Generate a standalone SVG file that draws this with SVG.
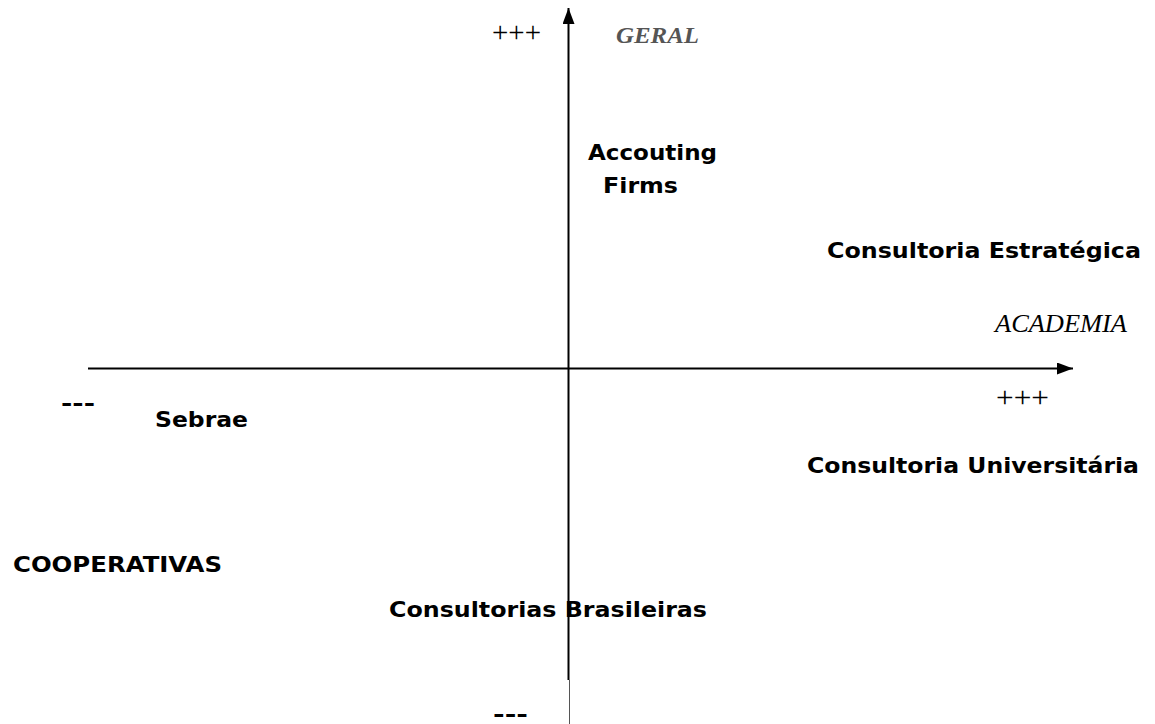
<svg xmlns="http://www.w3.org/2000/svg" width="1155" height="724" viewBox="0 0 1155 724">
  <style>
    .lbl { font-family: "DejaVu Sans", Verdana, sans-serif; font-weight: bold; font-size: 22px; fill: #000; }
    .tick { font-family: "Liberation Serif", "Times New Roman", serif; font-size: 29px; fill: #000; }
    .axis-name { font-family: "Liberation Serif", "Times New Roman", serif; font-style: italic; }
    .dash { font-family: "DejaVu Sans", Verdana, sans-serif; font-weight: bold; font-size: 22px; fill: #000; }
  </style>
  <defs>
    <marker id="arrow" markerWidth="16" markerHeight="12" refX="16" refY="6" orient="auto" markerUnits="userSpaceOnUse" viewBox="0 0 16 12">
      <path d="M0,0 L16,6 L0,12 Z" fill="#000"/>
    </marker>
  </defs>
  <rect width="1155" height="724" fill="#fff"/>

  <g id="connectors">
    <!-- vertical axis (GERAL) -->
    <line x1="568.5" y1="680" x2="568.5" y2="8" stroke="#000" stroke-width="2" marker-end="url(#arrow)"/>
    <line x1="569.5" y1="680" x2="569.5" y2="724" stroke="#555" stroke-width="1"/>
    <!-- horizontal axis (ACADEMIA) -->
    <line x1="88" y1="368.5" x2="1073" y2="368.5" stroke="#000" stroke-width="2" marker-end="url(#arrow)"/>
  </g>

  <g id="axis-labels">
    <text class="tick" x="492" y="42" textLength="49" lengthAdjust="spacingAndGlyphs">+++</text>
    <text class="axis-name" x="616" y="43" font-size="24" font-weight="bold" fill="#555" textLength="83" lengthAdjust="spacingAndGlyphs">GERAL</text>
    <text class="axis-name" x="995" y="332" font-size="26" fill="#000" textLength="132" lengthAdjust="spacingAndGlyphs">ACADEMIA</text>
    <text class="tick" x="996" y="407" textLength="53" lengthAdjust="spacingAndGlyphs">+++</text>
    <text class="dash" x="61" y="411" textLength="34" lengthAdjust="spacingAndGlyphs">---</text>
    <text class="dash" x="493" y="722" textLength="35" lengthAdjust="spacingAndGlyphs">---</text>
  </g>

  <g id="accounting-firms">
    <text class="lbl" x="588" y="160" textLength="129" lengthAdjust="spacingAndGlyphs">Accouting</text>
    <text class="lbl" x="603" y="193" textLength="75" lengthAdjust="spacingAndGlyphs">Firms</text>
  </g>
  <g id="consultoria-estrategica">
    <text class="lbl" x="827" y="258" textLength="314" lengthAdjust="spacingAndGlyphs">Consultoria Estratégica</text>
  </g>
  <g id="sebrae">
    <text class="lbl" x="155" y="427" textLength="93" lengthAdjust="spacingAndGlyphs">Sebrae</text>
  </g>
  <g id="consultoria-universitaria">
    <text class="lbl" x="807" y="473" textLength="332" lengthAdjust="spacingAndGlyphs">Consultoria Universitária</text>
  </g>
  <g id="cooperativas">
    <text class="lbl" x="13" y="572" textLength="209" lengthAdjust="spacingAndGlyphs">COOPERATIVAS</text>
  </g>
  <g id="consultorias-brasileiras">
    <text class="lbl" x="389" y="617" textLength="318" lengthAdjust="spacingAndGlyphs">Consultorias Brasileiras</text>
  </g>
</svg>
